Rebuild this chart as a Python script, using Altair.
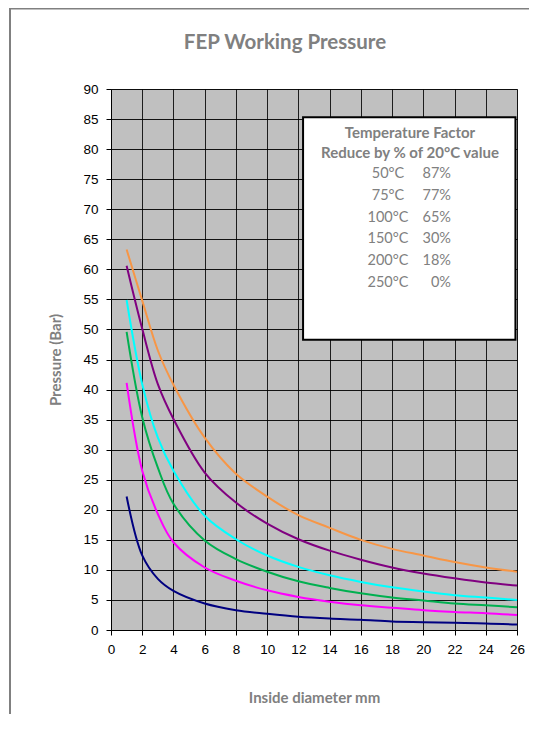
import altair as alt
import pandas as pd

# ---- data ----
diameter = [1, 2, 3, 4, 6, 8, 10, 12, 14, 16, 18, 20, 22, 24, 26]
curve_orange = [63.3, 54.8, 46.5, 40.8, 32.0, 26.0, 22.2, 19.1, 17.0, 15.0, 13.5, 12.4, 11.3, 10.4, 9.7]
curve_purple = [60.6, 50.1, 40.9, 35.1, 26.2, 21.2, 17.7, 15.1, 13.2, 11.7, 10.4, 9.4, 8.6, 7.9, 7.4]
curve_cyan = [54.9, 40.9, 32.0, 26.5, 19.0, 15.1, 12.4, 10.5, 9.1, 8.0, 7.1, 6.4, 5.8, 5.4, 5.0]
curve_green = [49.6, 35.4, 27.0, 21.0, 14.9, 11.8, 9.7, 8.1, 7.0, 6.1, 5.4, 4.9, 4.4, 4.1, 3.8]
curve_magenta = [41.1, 26.5, 19.3, 14.6, 10.4, 8.2, 6.6, 5.5, 4.7, 4.1, 3.7, 3.3, 3.0, 2.8, 2.5]
curve_navy = [22.2, 12.4, 8.5, 6.5, 4.4, 3.3, 2.7, 2.2, 1.9, 1.7, 1.4, 1.3, 1.2, 1.1, 0.9]

series_names = ["Curve 1", "Curve 2", "Curve 3", "Curve 4", "Curve 5", "Curve 6"]
series_values = [curve_orange, curve_purple, curve_cyan, curve_green, curve_magenta, curve_navy]
series_colors = ["#F79646", "#800080", "#00FFFF", "#00B050", "#FF00FF", "#000080"]

x_ticks = list(range(0, 27, 2))
y_ticks = list(range(0, 91, 5))

box_header = ["Temperature Factor", "Reduce by % of 20°C value"]
box_temps = ["50°C", "75°C", "100°C", "150°C", "200°C", "250°C"]
box_pcts = ["87%", "77%", "65%", "30%", "18%", "0%"]

title_text = "FEP Working Pressure"
x_title = "Inside diameter mm"
y_title = "Pressure (Bar)"

# ---- build tables ----
rows = []
for name, vals in zip(series_names, series_values):
    for d, p in zip(diameter, vals):
        rows.append({"diameter": d, "pressure": p, "series": name})
df = pd.DataFrame(rows)

W, H = 406, 541
GRAY = "#808080"

x_scale = alt.Scale(domain=[0, 26], nice=False, zero=False)
y_scale = alt.Scale(domain=[0, 90], nice=False)

x_axis = alt.Axis(
    values=x_ticks, grid=True, gridColor="#000000", gridOpacity=0.85, gridWidth=1,
    tickColor="#000000", tickSize=5, domainColor="#000000",
    labelFont="Liberation Sans", labelFontSize=13.5, labelColor="#000000",
    labelPadding=7, labelFlush=False, labelOverlap=False,
    title=x_title, titleFont="Lato", titleFontSize=15, titleFontWeight="bold",
    titleColor=GRAY, titleX=W / 2, titleY=67.5, titleBaseline="middle", titleAlign="center",
)
y_axis = alt.Axis(
    values=y_ticks, grid=True, gridColor="#000000", gridOpacity=0.9, gridWidth=1,
    tickColor="#000000", tickSize=5, domainColor="#000000",
    labelFont="Liberation Sans", labelFontSize=13.5, labelColor="#000000",
    labelPadding=8, labelFlush=False, labelOverlap=False,
    title=y_title, titleFont="Lato", titleFontSize=15, titleFontWeight="bold",
    titleColor=GRAY, titleX=-56, titleY=H / 2, titleBaseline="middle", titleAlign="center",
)

lines = alt.Chart(df).mark_line(strokeWidth=2, interpolate="catmull-rom").encode(
    x=alt.X("diameter:Q", scale=x_scale, axis=x_axis),
    y=alt.Y("pressure:Q", scale=y_scale, axis=y_axis),
    color=alt.Color("series:N", scale=alt.Scale(domain=series_names, range=series_colors), legend=None),
)

one = pd.DataFrame({"k": [0]})

# outer chart border (left and top edges; the others fall outside the picture)
border_left = alt.Chart(one).mark_rule(stroke=GRAY, strokeWidth=2).encode(
    x=alt.value(-101), y=alt.value(-81), y2=alt.value(H + 200)
)
border_top = alt.Chart(one).mark_rule(stroke=GRAY, strokeWidth=2).encode(
    x=alt.value(-101), x2=alt.value(W + 200), y=alt.value(-80.5)
)

# annotation box (in data units)
box = alt.Chart(one).mark_rect(fill="#FFFFFF", stroke="#000000", strokeWidth=2).encode(
    x=alt.X(datum=12.3, scale=x_scale, axis=x_axis), x2=alt.X2(datum=25.9),
    y=alt.Y(datum=85.3, scale=y_scale, axis=y_axis), y2=alt.Y2(datum=48.3),
)

head_df = pd.DataFrame({"text": box_header, "row": list(range(len(box_header)))})
header = alt.Chart(head_df).mark_text(
    font="Lato", fontSize=15, fontWeight="bold", color=GRAY, align="center", baseline="middle"
).transform_calculate(py="43.7 + datum.row * 20.6").encode(
    x=alt.value(299), y=alt.Y("py:Q", scale=None, axis=None), text="text:N"
)

body_df = pd.DataFrame({"temp": box_temps, "pct": box_pcts, "row": list(range(len(box_temps)))})
temps = alt.Chart(body_df).mark_text(
    font="Lato", fontSize=14.5, color=GRAY, align="center", baseline="middle"
).transform_calculate(py="85.3 + datum.row * 21.7").encode(
    x=alt.value(277), y=alt.Y("py:Q", scale=None, axis=None), text="temp:N"
)
pcts = alt.Chart(body_df).mark_text(
    font="Lato", fontSize=14.5, color=GRAY, align="right", baseline="middle"
).transform_calculate(py="85.3 + datum.row * 21.7").encode(
    x=alt.value(340), y=alt.Y("py:Q", scale=None, axis=None), text="pct:N"
)

title = alt.Chart(one).mark_text(
    font="Lato", fontSize=20.5, fontWeight="bold", color=GRAY, align="center", baseline="alphabetic"
).encode(x=alt.value(174), y=alt.value(-39.7), text=alt.value(title_text))

chart = alt.layer(lines, border_left, border_top, box, header, temps, pcts, title).properties(
    width=W, height=H,
    autosize=alt.AutoSizeParams(type="none"),
    padding={"left": 103, "top": 81, "right": 12, "bottom": 84},
).configure_view(fill="#C0C0C0", stroke=GRAY, strokeWidth=1)

chart.save("out.html", embed_options={"renderer": "svg", "actions": False})
